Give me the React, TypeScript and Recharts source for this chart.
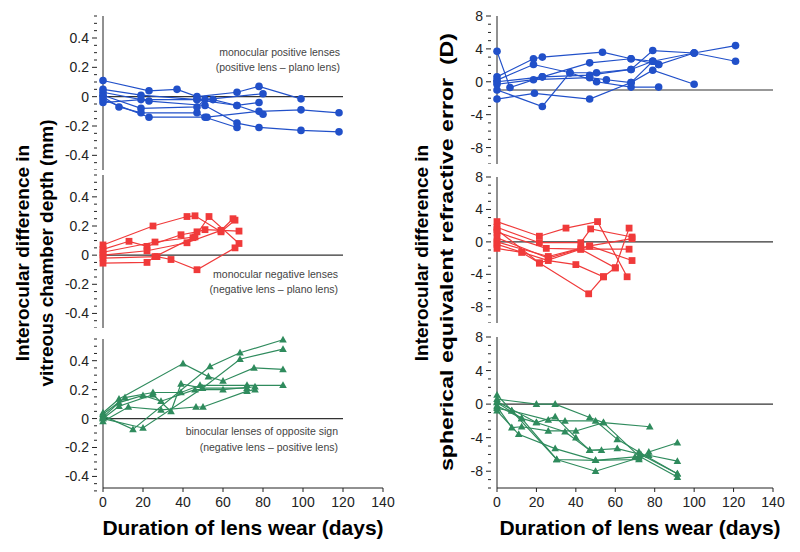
import { LineChart, Line, XAxis, YAxis, ReferenceLine } from 'recharts';

// x axis (days) shared by all panels
const dayTicks = [0, 20, 40, 60, 80, 100, 120, 140];

// vitreous chamber depth axis (mm)
const vcdMajor = [-0.4, -0.2, 0, 0.2, 0.4];
const vcdTicks = [-0.5, -0.45, -0.4, -0.35, -0.3, -0.25, -0.2, -0.15, -0.1, -0.05, 0, 0.05, 0.1, 0.15, 0.2, 0.25, 0.3, 0.35, 0.4, 0.45, 0.5, 0.55];

// refractive error axis (D)
const refMajor = [-8, -4, 0, 4, 8];
const refTicks = [-10, -9, -8, -7, -6, -5, -4, -3, -2, -1, 0, 1, 2, 3, 4, 5, 6, 7, 8];

// each animal = list of [day, difference]
const vcdPositive = [
  [[0, 0.11], [23, 0.04], [37, 0.05], [47, 0.0], [67, 0.03], [78, 0.07], [99, -0.015]],
  [[0, 0.05], [19, 0.01], [47, -0.02], [55, -0.02], [67, -0.06], [78, -0.04]],
  [[0, 0.03], [23, -0.03], [51, -0.06], [67, -0.18], [78, -0.21], [99, -0.23], [118, -0.24]],
  [[0, 0.01], [19, -0.08], [47, -0.07], [51, -0.02], [80, 0.02]],
  [[0, 0.0], [8, -0.07], [19, -0.11], [47, -0.11], [51, -0.14], [67, -0.21]],
  [[0, -0.02], [23, -0.14], [52, -0.14], [78, -0.1], [99, -0.09], [118, -0.11]],
  [[0, -0.04], [19, -0.02], [47, -0.02], [67, -0.06], [80, -0.12]],
];

const vcdNegative = [
  [[0, 0.07], [25, 0.2], [42, 0.265], [46, 0.27], [59, 0.16], [66, 0.24]],
  [[0, 0.04], [13, 0.095], [22, 0.06], [39, 0.14], [47, 0.16], [51, 0.175], [68, 0.165]],
  [[0, 0.02], [26, 0.09], [46, 0.125], [53, 0.265], [68, 0.08]],
  [[0, 0.0], [22, 0.03], [42, 0.085], [59, 0.17], [65, 0.25]],
  [[0, -0.02], [27, -0.01], [34, -0.03], [47, -0.1], [66, 0.05]],
  [[0, -0.055], [22, -0.05], [26, -0.01], [45, 0.12]],
];

const vcdBinocular = [
  [[0, 0.02], [15, -0.075], [53.5, 0.36], [68.5, 0.455], [90, 0.545]],
  [[0, 0.0], [20, -0.065], [49.7, 0.21], [68.5, 0.41], [90, 0.48]],
  [[0, 0.04], [8, 0.135], [40, 0.38], [52.7, 0.29], [60, 0.26], [75.5, 0.35], [90, 0.34]],
  [[0, 0.03], [11, 0.145], [25, 0.18], [39, 0.18], [48.5, 0.23], [72, 0.23], [90, 0.23]],
  [[0, 0.01], [8, 0.11], [20, 0.16], [29, 0.12], [46, 0.2], [60, 0.2], [76, 0.22]],
  [[0, -0.02], [12.7, 0.08], [29, 0.06], [46.5, 0.08], [50, 0.08], [72, 0.19], [76, 0.2]],
  [[0, 0.0], [8, 0.085], [25, 0.165], [34, 0.05], [39, 0.24], [49.7, 0.21], [72, 0.21]],
];

const refPositive = [
  [[0, 3.7], [6.6, -0.7], [23, 0.6], [47, 0.8], [68, 1.5], [79, 2.5], [100, 3.5], [121, 4.4]],
  [[0, 0.6], [18.5, 2.8], [23, 3.0], [53.5, 3.6], [68, 2.8], [82, 2.1], [100, 3.5], [121, 2.5]],
  [[0, 0.2], [18.5, 2.1], [37, 1.1], [50.5, 1.1], [68, 1.5], [79, 3.8], [100, 3.5]],
  [[0, -0.3], [18.5, 0.25], [47, 0.5], [55.5, 0.25], [68, -0.1], [79, 1.4], [100, -0.3]],
  [[0, -1.0], [23, -3.0], [37, 1.1], [50.5, 0.0], [68, -0.65], [82, -0.65]],
  [[0, -2.1], [19, -1.4], [47, -2.1], [68, -0.1], [79, 2.5], [82, 2.1]],
  [[0, 0.0], [23, 0.6], [47, 2.3], [68, 2.8], [79, 2.5]],
];

const refNegative = [
  [[0, 2.5], [21.5, 0.7], [35, 1.7], [51, 2.5], [66, -4.3]],
  [[0, 1.8], [21.5, -0.1], [42.5, -0.1], [47.5, 1.6], [68.5, 0.6]],
  [[0, 1.2], [25, -0.8], [42.5, -0.9], [60, -3.2], [67, 1.7]],
  [[0, 0.5], [26, -2.0], [47, -0.5], [68.5, 0.4]],
  [[0, -0.3], [26, -2.3], [40, -2.8], [54, -4.3], [60, -3.2]],
  [[0, -0.8], [12.5, -1.3], [21.5, -2.6], [46.5, -6.4], [54, -4.3]],
  [[0, 0.0], [26, -1.8], [47, -0.5], [68.5, -2.3]],
  [[0, 1.5], [21.5, -2.6], [42.5, -0.9], [67, -0.9]],
];

const refBinocular = [
  [[0, 0.6], [20, 0], [29.5, 0], [47, -1.6], [54, -2.2], [77.5, -2.7]],
  [[0, 1.1], [7.5, -0.8], [26, -1.9], [34.5, -2.0], [50, -2.0], [61, -4.2], [72, -5.7], [91.5, -8.3]],
  [[0, 0.2], [12.5, -1.7], [20, -2.2], [29.5, -1.5], [40, -4.0], [47, -5.5], [53, -5.5]],
  [[0, -0.3], [7.5, -2.8], [12.5, -2.7], [26, -3.2], [40, -3.2], [54, -2.2], [72, -6.2], [91.5, -8.7]],
  [[0, -0.8], [11, -3.6], [29.5, -5.3], [50, -6.7], [72, -6.6], [77, -5.7], [91.5, -4.6]],
  [[0, -0.5], [7.5, -0.8], [30.3, -6.6], [50, -6.7], [70, -6.3], [77, -6.1], [91.5, -6.8]],
  [[0, 0.3], [20, -2.2], [34.5, -3.3], [47, -5.5], [61, -5.3], [73, -6.0], [91.5, -8.3]],
  [[0, -0.2], [12.5, -1.7], [30.3, -6.6], [50, -8.0], [72, -6.4]],
];

const BLUE = '#2150c9';
const RED = '#f03a3a';
const GREEN = '#2f8b5d';
const INK = '#222';
const FONT = '"Liberation Sans", Arial, sans-serif';

const toPoints = (line: number[][]) => line.map(([x, y]) => ({ x, y }));

const makeYTick = (majors: number[]) => (props: any) => {
  const { x, y, payload } = props;
  const v = payload.value;
  const isMajor = majors.some((m) => Math.abs(m - v) < 1e-6);
  return (
    <g>
      <line x1={x - (isMajor ? 5 : 3)} x2={x} y1={y} y2={y} stroke={INK} strokeWidth={1} />
      {isMajor && (
        <text x={x - 8} y={y} textAnchor="end" dominantBaseline="central" fontSize={14} fill={INK} fontFamily={FONT}>
          {String(v)}
        </text>
      )}
    </g>
  );
};

const makeDot = (shape: string, color: string, id: string) => (p: any) => {
  const { cx, cy, index } = p;
  const key = `${id}-${index}`;
  if (cx == null || cy == null) return <g key={key} />;
  if (shape === 'square') {
    return <rect key={key} x={cx - 3.4} y={cy - 3.4} width={6.8} height={6.8} fill={color} />;
  }
  if (shape === 'triangle') {
    return <polygon key={key} points={`${cx},${cy - 4} ${cx - 3.8},${cy + 2.8} ${cx + 3.8},${cy + 2.8}`} fill={color} />;
  }
  return <circle key={key} cx={cx} cy={cy} r={3.8} fill={color} />;
};

interface PanelProps {
  left: number;
  top: number;
  plotW: number;
  plotH: number;
  axisW: number;
  domainY: [number, number];
  ticks: number[];
  majors: number[];
  lines: number[][][];
  color: string;
  shape: string;
  showX?: boolean;
  zeroY: number;
  zeroEnd?: number;
  id: string;
}

function Panel({ left, top, plotW, plotH, axisW, domainY, ticks, majors, lines, color, shape, showX, zeroY, zeroEnd, id }: PanelProps) {
  const mTop = 12;
  const mRight = 20;
  const xH = showX ? 30 : 0;
  return (
    <div style={{ position: 'absolute', left: left - axisW, top: top - mTop }}>
      <LineChart width={axisW + plotW + mRight} height={mTop + plotH + xH} margin={{ top: mTop, right: mRight, left: 0, bottom: 0 }}>
        <XAxis
          type="number"
          dataKey="x"
          domain={[0, 140]}
          ticks={dayTicks}
          interval={0}
          hide={!showX}
          height={xH}
          axisLine={{ stroke: INK }}
          tickLine={{ stroke: INK }}
          tickSize={4}
          tickMargin={5}
          tick={{ fontSize: 14, fill: INK, fontFamily: FONT }}
        />
        <YAxis
          type="number"
          dataKey="y"
          domain={domainY}
          ticks={ticks}
          interval={0}
          width={axisW}
          axisLine={{ stroke: INK }}
          tickLine={false}
          tickMargin={0}
          tick={makeYTick(majors)}
        />
        {zeroEnd != null ? (
          <ReferenceLine segment={[{ x: 0, y: zeroY }, { x: zeroEnd, y: zeroY }]} stroke="#333" strokeWidth={1.2} />
        ) : (
          <ReferenceLine y={zeroY} stroke="#333" strokeWidth={1.2} />
        )}
        {lines.map((line, i) => (
          <Line
            key={`${id}-${i}`}
            data={toPoints(line)}
            dataKey="y"
            type="linear"
            stroke={color}
            strokeWidth={1.2}
            dot={makeDot(shape, color, `${id}-${i}`)}
            activeDot={false}
            isAnimationActive={false}
          />
        ))}
      </LineChart>
    </div>
  );
}

const noteStyle = { fontSize: 10.5, fill: '#444', fontFamily: FONT };
const titleStyle = { fontSize: 19, fontWeight: 'bold' as const, fill: '#000', fontFamily: FONT };
const xTitleStyle = { ...titleStyle, fontSize: 21 };

export default function App() {
  const vcd = { axisW: 103, plotW: 280, domainY: [-0.5, 0.55] as [number, number], ticks: vcdTicks, majors: vcdMajor, zeroY: 0, zeroEnd: 120 };
  const ref = { axisW: 60, plotW: 276, domainY: [-10, 8] as [number, number], ticks: refTicks, majors: refMajor };
  return (
    <div style={{ position: 'absolute', left: 0, top: 0, width: 800, height: 552, background: '#fff', overflow: 'hidden' }}>
      <Panel id="vp" left={103} top={16} plotH={154} {...vcd} lines={vcdPositive} color={BLUE} shape="circle" />
      <Panel id="vn" left={103} top={175} plotH={153} {...vcd} lines={vcdNegative} color={RED} shape="square" />
      <Panel id="vb" left={103} top={339} plotH={149} {...vcd} domainY={[-0.48, 0.55]} lines={vcdBinocular} color={GREEN} shape="triangle" showX />

      <Panel id="rp" left={497} top={16} plotH={148} {...ref} zeroY={-1} lines={refPositive} color={BLUE} shape="circle" />
      <Panel id="rn" left={497} top={177} plotH={146} {...ref} zeroY={0} lines={refNegative} color={RED} shape="square" />
      <Panel id="rb" left={497} top={337} plotH={151} {...ref} zeroY={0} lines={refBinocular} color={GREEN} shape="triangle" showX />

      <svg width={800} height={552} style={{ position: 'absolute', left: 0, top: 0, pointerEvents: 'none' }}>
        <text x={340} y={52} textAnchor="end" dominantBaseline="central" style={noteStyle}>monocular positive lenses</text>
        <text x={340} y={67} textAnchor="end" dominantBaseline="central" style={noteStyle}>(positive lens – plano lens)</text>
        <text x={338} y={274} textAnchor="end" dominantBaseline="central" style={noteStyle}>monocular negative lenses</text>
        <text x={338} y={289} textAnchor="end" dominantBaseline="central" style={noteStyle}>(negative lens – plano lens)</text>
        <text x={338} y={431} textAnchor="end" dominantBaseline="central" style={noteStyle}>binocular lenses of opposite sign</text>
        <text x={338} y={447} textAnchor="end" dominantBaseline="central" style={noteStyle}>(negative lens – positive lens)</text>

        <text x={22} y={253} transform="rotate(-90 22 253)" textAnchor="middle" dominantBaseline="central" style={titleStyle}>Interocular difference in</text>
        <text x={46} y={253} transform="rotate(-90 46 253)" textAnchor="middle" dominantBaseline="central" style={titleStyle}>vitreous chamber depth (mm)</text>
        <text x={421} y={253} transform="rotate(-90 421 253)" textAnchor="middle" dominantBaseline="central" style={titleStyle}>Interocular difference in</text>
        <text x={446} y={252} transform="rotate(-90 446 252)" textAnchor="middle" dominantBaseline="central" textLength={438} lengthAdjust="spacingAndGlyphs" style={{ ...titleStyle, whiteSpace: 'pre' }}>spherical equivalent refractive error  (D)</text>

        <text x={243} y={527} textAnchor="middle" dominantBaseline="central" style={xTitleStyle}>Duration of lens wear (days)</text>
        <text x={640} y={527} textAnchor="middle" dominantBaseline="central" style={xTitleStyle}>Duration of lens wear (days)</text>
      </svg>
    </div>
  );
}
